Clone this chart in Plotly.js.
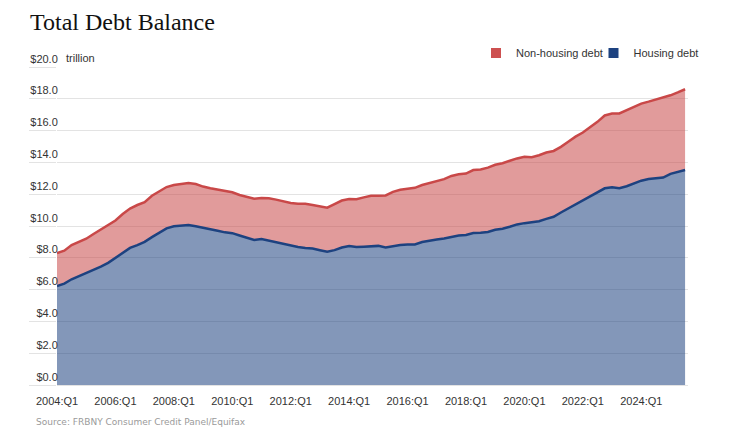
<!DOCTYPE html>
<html>
<head>
<meta charset="utf-8">
<script src="https://cdn.plot.ly/plotly-3.0.1.min.js"></script>
<style>
  html, body { margin: 0; padding: 0; background: #fff; }
  #chart { width: 733px; height: 435px; }
</style>
</head>
<body>
<div id="chart"></div>
<script>
// ---- data (trillions of dollars), quarterly 2004:Q1 – 2025:Q3 ----
const quarters = [];
for (let y = 2004; y <= 2025; y++) {
  for (let q = 1; q <= 4; q++) {
    if (y === 2025 && q > 3) break;
    quarters.push(y + ":Q" + q);
  }
}
const xTickLabels = ["2004:Q1","2006:Q1","2008:Q1","2010:Q1","2012:Q1","2014:Q1",
                     "2016:Q1","2018:Q1","2020:Q1","2022:Q1","2024:Q1"];
const yTickValues = [0, 2, 4, 6, 8, 10, 12, 14, 16, 18, 20];
const yTickLabels = ["$0.0","$2.0","$4.0","$6.0","$8.0","$10.0","$12.0","$14.0","$16.0","$18.0","$20.0"];

const totalDebt = [
  8.30, 8.45, 8.80, 9.02, 9.20, 9.50, 9.80, 10.05, 10.35, 10.75,
  11.10, 11.32, 11.50, 11.90, 12.20, 12.45, 12.58, 12.62, 12.70, 12.64,
  12.48, 12.38, 12.28, 12.20, 12.12, 11.95, 11.85, 11.72, 11.76, 11.74,
  11.66, 11.55, 11.45, 11.40, 11.40, 11.32, 11.25, 11.15, 11.38, 11.60,
  11.70, 11.68, 11.80, 11.90, 11.90, 11.92, 12.15, 12.28, 12.35, 12.40,
  12.58, 12.70, 12.83, 12.95, 13.15, 13.25, 13.30, 13.52, 13.56, 13.67,
  13.85, 13.95, 14.10, 14.25, 14.35, 14.33, 14.45, 14.62, 14.72, 14.98,
  15.30, 15.62, 15.88, 16.20, 16.55, 16.95, 17.07, 17.08, 17.30, 17.52,
  17.70, 17.82, 17.95, 18.06, 18.22, 18.40, 18.60
];
const housingDebt = [
  6.22, 6.38, 6.65, 6.85, 7.02, 7.22, 7.45, 7.68, 8.00, 8.35,
  8.62, 8.80, 9.00, 9.30, 9.60, 9.85, 9.98, 10.03, 10.06, 9.98,
  9.90, 9.80, 9.70, 9.60, 9.55, 9.40, 9.28, 9.12, 9.18, 9.08,
  8.95, 8.85, 8.75, 8.68, 8.62, 8.58, 8.48, 8.38, 8.48, 8.65,
  8.74, 8.68, 8.70, 8.74, 8.75, 8.65, 8.74, 8.80, 8.84, 8.84,
  8.99, 9.05, 9.15, 9.22, 9.33, 9.40, 9.43, 9.56, 9.57, 9.62,
  9.76, 9.83, 9.95, 10.10, 10.18, 10.22, 10.30, 10.45, 10.58, 10.85,
  11.10, 11.40, 11.65, 11.90, 12.15, 12.37, 12.44, 12.38, 12.50, 12.68,
  12.85, 12.95, 13.00, 13.05, 13.28, 13.40, 13.52
];

// ---- styles ----
const RED = "rgb(201,72,72)";
const BLUE = "rgb(29,66,128)";
const GRID = "#e3e3e3";
const FONT = "Liberation Sans, Arial, sans-serif";

const traces = [
  {
    x: quarters, y: housingDebt, type: "scatter", mode: "lines",
    name: "Housing debt", fill: "tozeroy",
    line: { color: BLUE, width: 2.5 },
    fillcolor: "rgba(29,66,128,0.55)",
    showlegend: false, hoverinfo: "skip"
  },
  {
    x: quarters, y: totalDebt, type: "scatter", mode: "lines",
    name: "Non-housing debt", fill: "tonexty",
    line: { color: RED, width: 2.5 },
    fillcolor: "rgba(201,72,72,0.55)",
    showlegend: false, hoverinfo: "skip"
  },
  // legend entries (square swatches)
  { x: [null], y: [null], type: "scatter", mode: "markers", name: "Non-housing debt",
    legend: "legend",
    marker: { symbol: "square", size: 10, color: "rgb(205,80,80)" } },
  { x: [null], y: [null], type: "scatter", mode: "markers", name: "Housing debt",
    legend: "legend2",
    marker: { symbol: "square", size: 10, color: BLUE } }
];

const legendBase = {
  orientation: "h",
  traceorder: "normal",
  yanchor: "middle",
  y: (385 - 53) / 318,
  font: { family: FONT, size: 11, color: "#333" },
  bgcolor: "rgba(0,0,0,0)",
  itemwidth: 30
};

const layout = {
  width: 733, height: 435,
  margin: { l: 57, r: 45, t: 67, b: 50 },
  paper_bgcolor: "#fff", plot_bgcolor: "#fff",
  font: { family: FONT, size: 11, color: "#333" },
  title: {
    text: "Total Debt Balance",
    font: { family: "Liberation Serif, Times New Roman, serif", size: 24, color: "#111" },
    xref: "container", yref: "container",
    x: 30 / 733, xanchor: "left",
    y: 1 - 22 / 435, yanchor: "middle"
  },
  xaxis: {
    type: "category",
    categoryorder: "array", categoryarray: quarters,
    range: [0, 86.4],
    tickmode: "array", tickvals: xTickLabels, ticktext: xTickLabels,
    showgrid: false, zeroline: false,
    showline: false,
    ticks: "outside", ticklen: 6, tickcolor: "rgba(0,0,0,0)",
    tickfont: { family: FONT, size: 11, color: "#333" },
    fixedrange: true
  },
  yaxis: {
    range: [0, 20],
    tickmode: "array", tickvals: yTickValues, ticktext: yTickLabels,
    showgrid: true, gridcolor: GRID, gridwidth: 1,
    zeroline: true, zerolinecolor: GRID, zerolinewidth: 1,
    showline: false,
    ticks: "outside", ticklen: 27, tickcolor: GRID, tickwidth: 1,
    ticklabelposition: "outside top",
    ticklabelstandoff: -4,
    tickfont: { family: FONT, size: 11, color: "#333" },
    fixedrange: true
  },
  legend: Object.assign({}, legendBase, { x: (608 - 57) / 631, xanchor: "right" }),
  legend2: Object.assign({}, legendBase, { x: (703.5 - 57) / 631, xanchor: "right" }),
  annotations: [
    {
      text: "trillion", xref: "paper", yref: "paper",
      x: (64 - 57) / 631, xanchor: "left",
      y: (385 - 58) / 318, yanchor: "middle",
      showarrow: false,
      font: { family: FONT, size: 11, color: "#333" }
    },
    {
      text: "Source: FRBNY Consumer Credit Panel/Equifax",
      xref: "paper", yref: "paper",
      x: (34 - 57) / 631, xanchor: "left",
      y: (385 - 422) / 318, yanchor: "middle",
      showarrow: false,
      font: { family: "DejaVu Sans, sans-serif", size: 9, color: "#9a9a9a" }
    }
  ],
  showlegend: true,
  hovermode: false
};

Plotly.newPlot("chart", traces, layout, { displayModeBar: false, staticPlot: true });
</script>
</body>
</html>
